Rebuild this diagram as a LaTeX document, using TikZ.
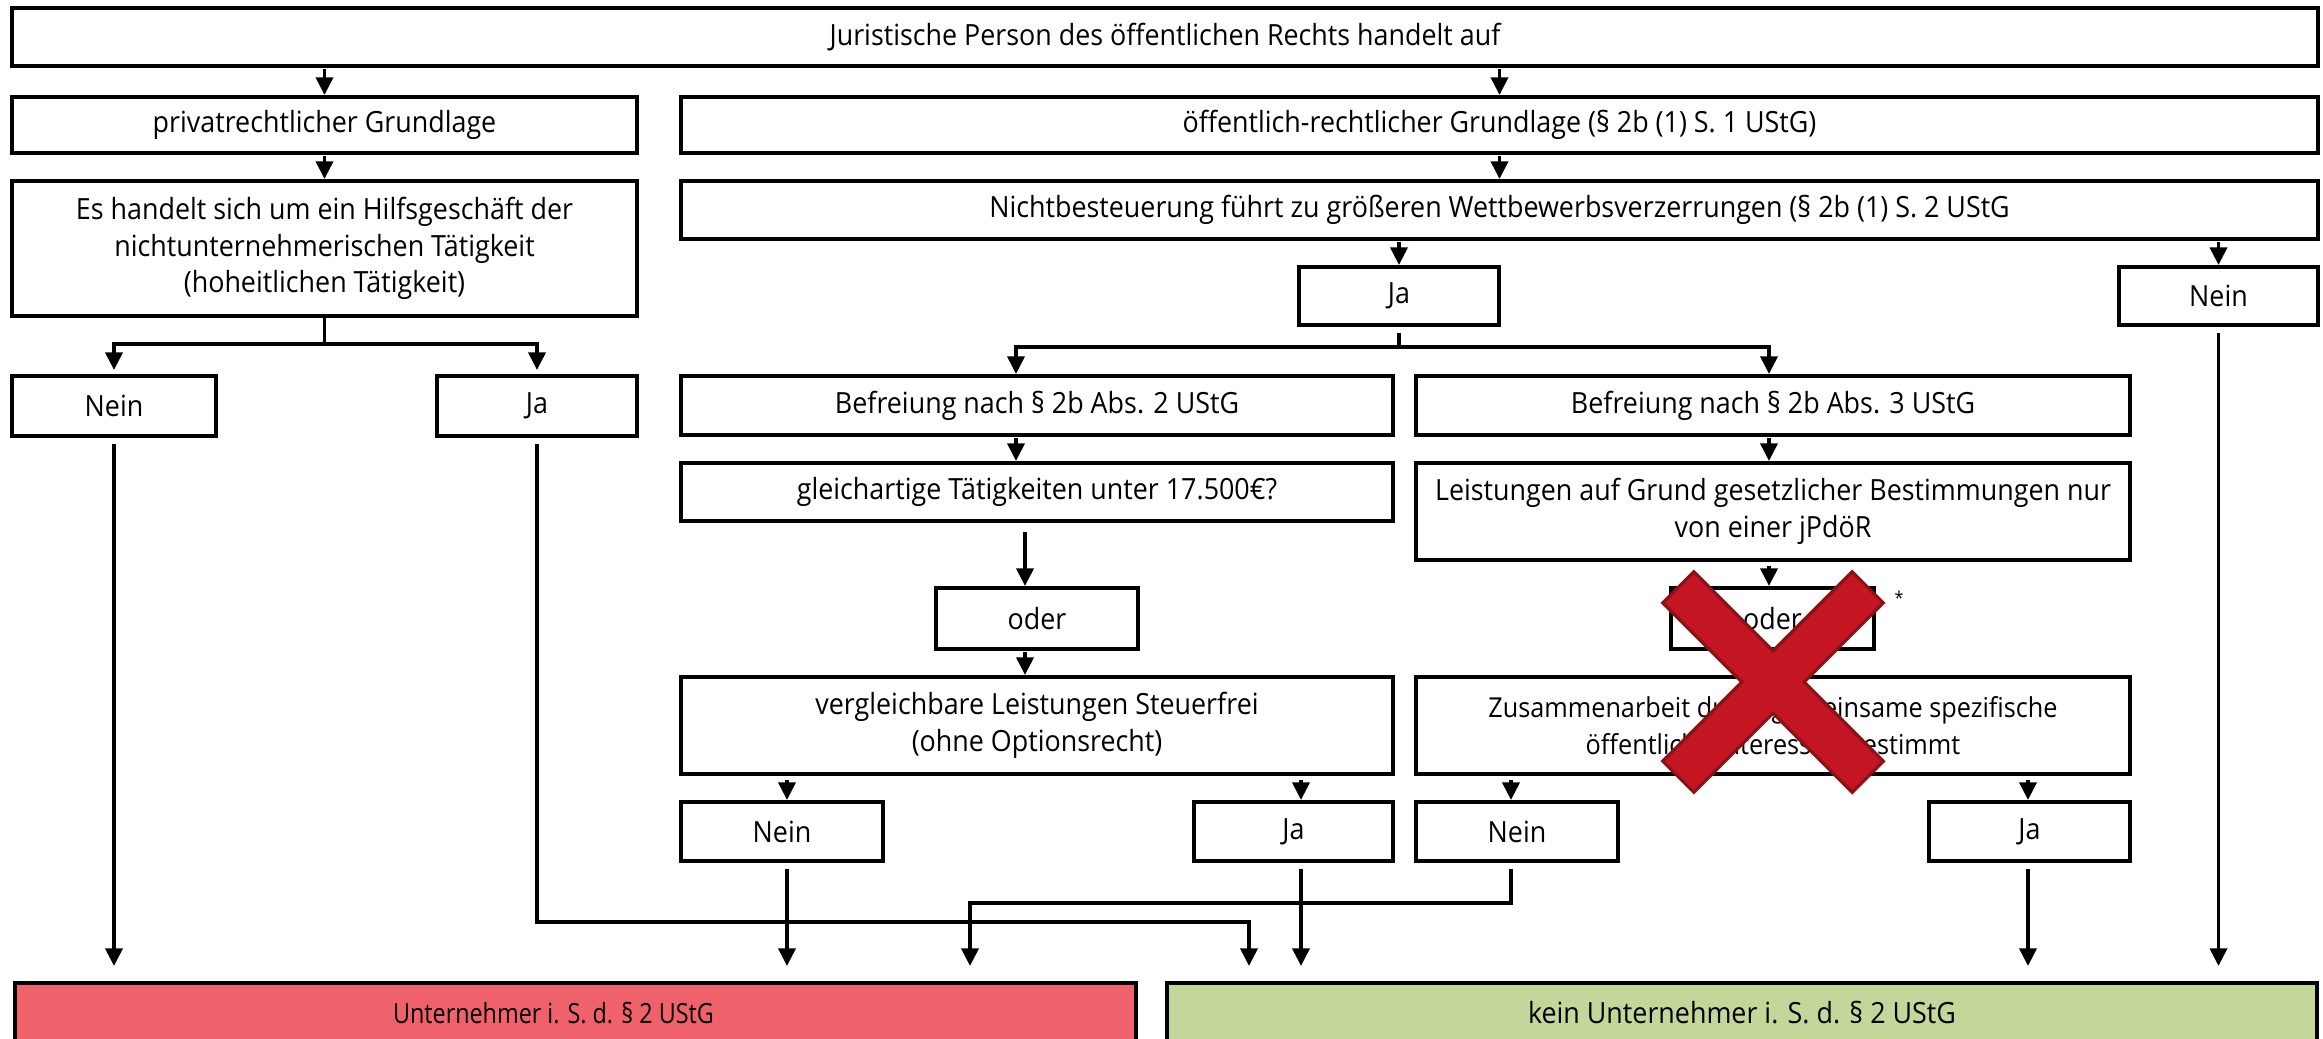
\documentclass[tikz,border=0pt]{standalone}
\usepackage{fontspec}
\setmainfont[FakeStretch=0.92]{Open Sans}
\newfontfamily\condf[FakeStretch=0.84]{Open Sans}
\usetikzlibrary{arrows.meta,calc}
\definecolor{redbox}{RGB}{239,98,107}
\definecolor{greenbox}{RGB}{196,215,155}
\definecolor{xred}{RGB}{196,22,34}
\definecolor{xdark}{RGB}{140,18,24}
\newcommand\mkbox[7][]{%
  \pgfmathsetmacro\bx{(#3+#5)/2}\pgfmathsetmacro\by{(#4+#6)/2}%
  \pgfmathsetmacro\bw{(#5-#3)*0.01}\pgfmathsetmacro\bh{(#6-#4)*0.01}%
  \node[box,minimum width=\bw cm,minimum height=\bh cm,#1] (#2) at (\bx,\by) {#7};}
\begin{document}
\begin{tikzpicture}[x=0.01cm,y=-0.01cm,
  box/.style={draw, line width=1.3pt, inner sep=0pt, outer sep=0pt, align=center, font=\fontsize{8.3}{10.4}\selectfont},
  arr/.style={line width=1.1pt, -{Triangle[length=5pt,width=4.8pt]}, shorten <=0.03cm, shorten >=0.02cm},
  longarr/.style={arr, shorten <=0.08cm, shorten >=0.17cm},
]
\useasboundingbox[fill=white] (0,0) rectangle (2323,1038);

% boxes
\mkbox{top}{12}{8}{2318}{66}{Juristische Person des öffentlichen Rechts handelt auf}
\mkbox{priv}{12}{97}{637}{153}{privatrechtlicher Grundlage}
\mkbox{oeff}{681}{97}{2318}{153}{öffentlich-rechtlicher Grundlage (§ 2b (1) S. 1 UStG)}
\mkbox{hilf}{12}{181}{637}{316}{Es handelt sich um ein Hilfsgeschäft der\\nichtunternehmerischen Tätigkeit\\(hoheitlichen Tätigkeit)}
\mkbox{nicht}{681}{181}{2318}{239}{Nichtbesteuerung führt zu größeren Wettbewerbsverzerrungen (§ 2b (1) S. 2 UStG}
\mkbox{ja1}{1299}{267}{1499}{325}{Ja}
\mkbox{nein1}{2119}{267}{2318}{325}{Nein}
\mkbox{neinL}{12}{376}{216}{436}{Nein}
\mkbox{jaL}{437}{376}{637}{436}{Ja}
\mkbox{bef2}{681}{376}{1393}{435}{Befreiung nach § 2b Abs. 2 UStG}
\mkbox{bef3}{1416}{376}{2130}{435}{Befreiung nach § 2b Abs. 3 UStG}
\mkbox{gleich}{681}{463}{1393}{521}{gleichartige Tätigkeiten unter 17.500€?}
\mkbox{leist}{1416}{463}{2130}{560}{Leistungen auf Grund gesetzlicher Bestimmungen nur\\von einer jPdöR}
\mkbox{oder1}{936}{588}{1138}{649}{oder}
\mkbox{oder2}{1671}{588}{1874}{649}{oder}
\mkbox{vergl}{681}{677}{1393}{774}{vergleichbare Leistungen Steuerfrei\\(ohne Optionsrecht)}
\mkbox[font=\fontsize{7.8}{10.6}\selectfont]{zus}{1416}{677}{2130}{774}{Zusammenarbeit durch gemeinsame spezifische\\öffentliche Interessen bestimmt}
\mkbox{nein2}{681}{802}{883}{861}{Nein}
\mkbox{ja2}{1194}{802}{1393}{861}{Ja}
\mkbox{nein3}{1416}{802}{1618}{861}{Nein}
\mkbox{ja3}{1929}{802}{2130}{861}{Ja}
\mkbox[fill=redbox, font=\condf\fontsize{7.9}{10}\selectfont]{red}{15}{983}{1136}{1043}{Unternehmer i. S. d. § 2 UStG\hspace*{0.44cm}}
\mkbox[fill=greenbox]{green}{1167}{983}{2317}{1043}{kein Unternehmer i. S. d. § 2 UStG}
\node[font=\fontsize{5}{6}\selectfont, inner sep=0pt] (star) at (1899,598) {*};

% column / row helpers
\coordinate (xB2) at (1016,0);
\coordinate (xB3) at (1769,0);
\coordinate (xO1) at (1025,0);
\coordinate (xN2) at (787,0);
\coordinate (xJ2) at (1301,0);
\coordinate (xN3) at (1511,0);
\coordinate (xJ3) at (2028,0);
\coordinate (xRL) at (970,0);
\coordinate (xGL) at (1249,0);
\coordinate (yJ) at (0,922);
\coordinate (yN) at (0,903);

% connectors
\draw[arr] (priv.north |- top.south) -- (priv.north);
\draw[arr] (oeff.north |- top.south) -- (oeff.north);
\draw[arr] (priv.south) -- (hilf.north);
\draw[arr] (oeff.south) -- (nicht.north);
\draw[arr] (ja1.north |- nicht.south) -- (ja1.north);
\draw[arr] (nein1.north |- nicht.south) -- (nein1.north);

\draw[arr, shorten <=0pt, shorten >=0.06cm] (hilf.south) -- ++(0,28) -| (neinL.north);
\draw[arr, shorten <=0pt, shorten >=0.06cm] (hilf.south) -- ++(0,28) -| (jaL.north);

\draw[arr, shorten <=0.08cm] (ja1.south) -- ++(0,22) -| (bef2.north -| xB2);
\draw[arr, shorten <=0.08cm] (ja1.south) -- ++(0,22) -| (bef3.north -| xB3);

\draw[arr] (bef2.south -| xB2) -- (gleich.north -| xB2);
\draw[arr] (bef3.south -| xB3) -- (leist.north -| xB3);
\draw[arr, shorten <=0.11cm] (gleich.south -| xO1) -- (oder1.north -| xO1);
\draw[arr] (oder1.south -| xO1) -- (vergl.north -| xO1);
\draw[arr, shorten <=0.06cm] (leist.south -| xB3) -- (oder2.north -| xB3);
\draw[arr] (oder2.south -| xB3) -- (zus.north -| xB3);

\draw[arr, shorten <=0.06cm] (vergl.south -| xN2) -- (nein2.north -| xN2);
\draw[arr, shorten <=0.06cm] (vergl.south -| xJ2) -- (ja2.north -| xJ2);
\draw[arr, shorten <=0.06cm] (zus.south -| xN3) -- (nein3.north -| xN3);
\draw[arr, shorten <=0.06cm] (zus.south -| xJ3) -- (ja3.north -| xJ3);

% to results
\draw[longarr] (neinL.south) -- (neinL.south |- red.north);
\draw[longarr] (jaL.south) -- (jaL.south |- yJ) -| (xGL |- green.north);
\draw[longarr] (nein2.south -| xN2) -- (xN2 |- red.north);
\draw[longarr] (nein3.south -| xN3) -- (xN3 |- yN) -| (xRL |- red.north);
\draw[longarr] (ja2.south -| xJ2) -- (xJ2 |- green.north);
\draw[longarr] (ja3.south -| xJ3) -- (xJ3 |- green.north);
\draw[longarr] (nein1.south) -- (nein1.south |- green.north);

% red cross
\begin{scope}[shift={(1773,682)}]
\filldraw[fill=xred, draw=xdark, line width=0.9pt, line join=miter]
  (79.2,-110.3) -- (110.3,-79.2) -- (31.1,0) -- (110.3,79.2) -- (79.2,110.3) -- (0,31.1)
  -- (-79.2,110.3) -- (-110.3,79.2) -- (-31.1,0) -- (-110.3,-79.2) -- (-79.2,-110.3) -- (0,-31.1) -- cycle;
\end{scope}
\end{tikzpicture}
\end{document}
